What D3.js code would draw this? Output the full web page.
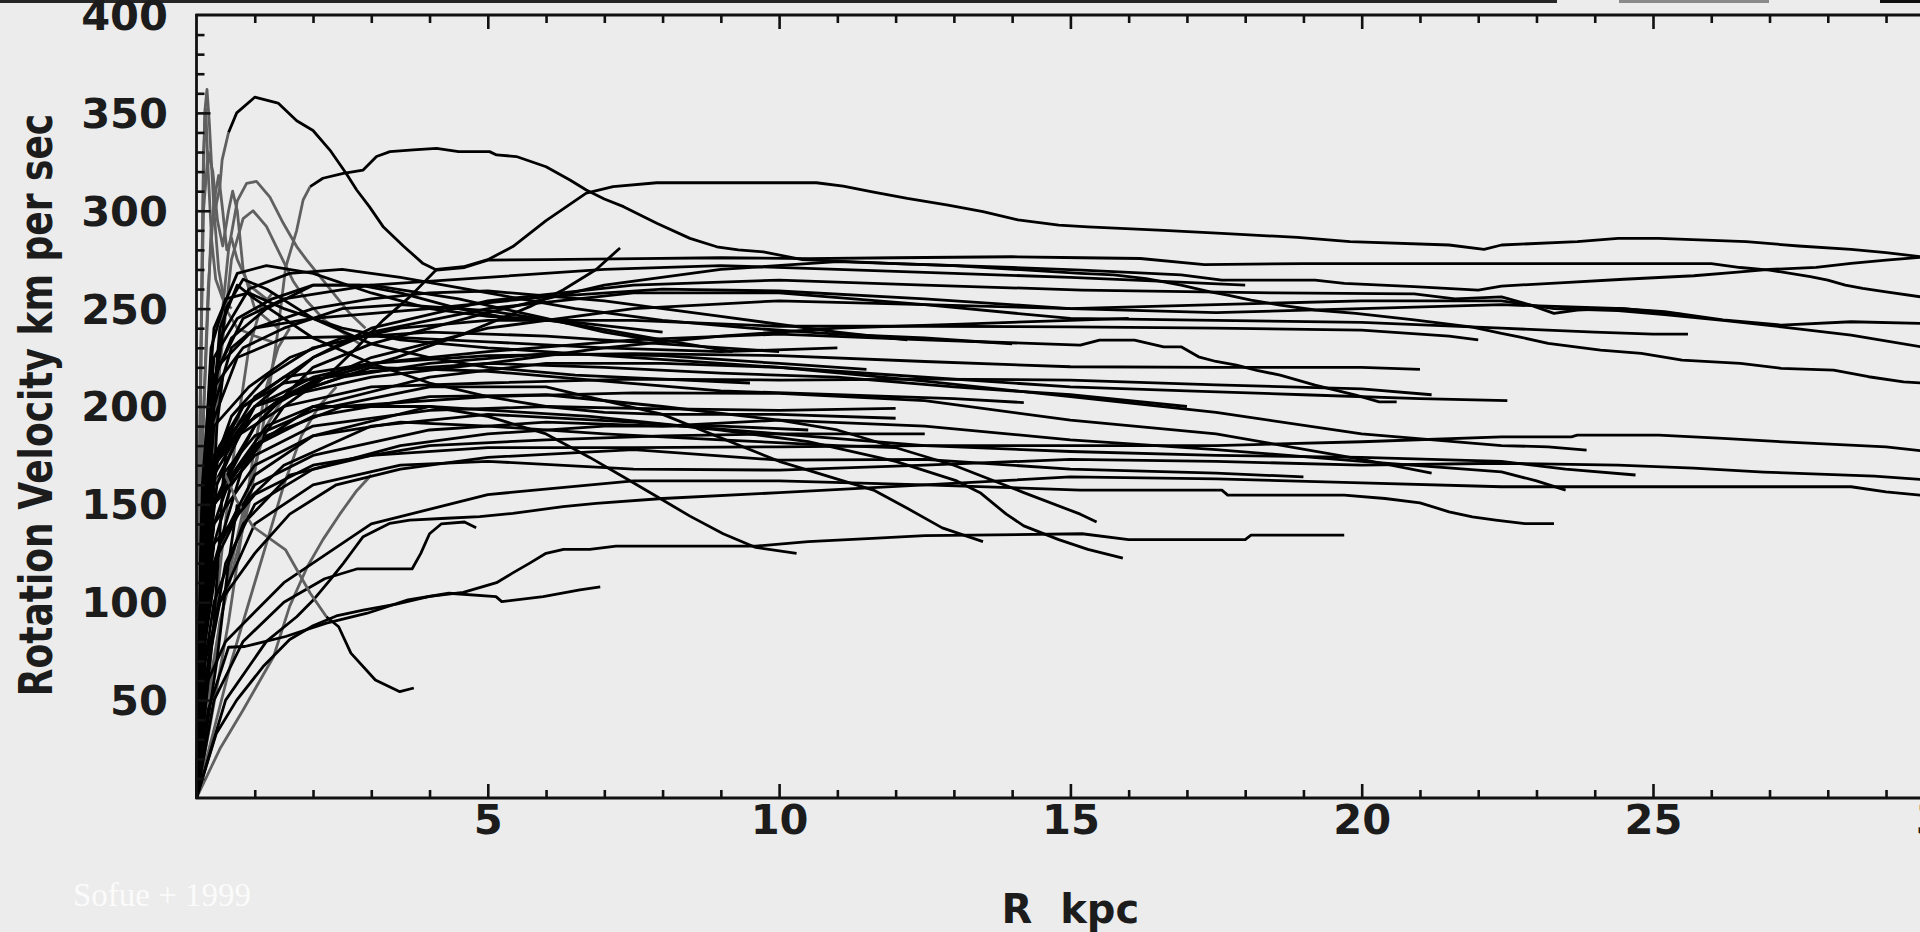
<!DOCTYPE html>
<html><head><meta charset="utf-8">
<script src="https://cdn.jsdelivr.net/npm/d3@7"></script>
<style>
html,body{margin:0;padding:0;background:#ececec;overflow:hidden;}
svg{display:block;}
.lbl{font-family:"DejaVu Sans",sans-serif;font-size:40px;font-weight:bold;fill:#1c1c1c;}
</style></head><body>
<svg id="chart" width="1920" height="932"></svg>
<script>
// ---------- axis values ----------
const xTickLabels = [5, 10, 15, 20, 25, 30];
const yTickLabels = [50, 100, 150, 200, 250, 300, 350, 400];
const xTitle = "R  kpc";
const yTitle = "Rotation Velocity km per sec";
const credit = "Sofue + 1999";

// ---------- rotation curves [R kpc, V km/s] ----------
const curveA2 = [[0,0],[0.15,80],[0.3,120],[0.8,170],[1.5,200],[2.3,217],[2.75,230],[3.2,244],[3.66,256],[4.12,270],[4.58,271.4],[5.0,275],[5.43,281.7],[6.0,295],[6.69,309],[7.15,312.3],[7.9,314.3],[10.64,314.3],[11.1,312.6],[11.6,309.7],[12.2,306.3],[12.9,302.9],[13.5,299.5],[14.1,295.3],[14.8,292.7],[15.3,291.8],[16.6,290],[17.6,288.4],[18.9,286.4],[19.8,284.2],[21.5,282.5],[22.1,280.3],[22.4,282.5],[23.7,284.2],[24.4,285.9],[25.1,285.9],[26.6,284.2],[27.5,282],[28.4,280.3],[29.0,278.6],[29.6,276.5],[30.7,275]];
const curveA1 = [[0,0],[0.1,180],[0.25,290],[0.4,312],[0.44,326],[0.55,340],[0.69,350],[1.0,358],[1.4,355],[1.72,346],[2.0,341],[2.29,331],[2.57,319],[2.75,310.6],[2.97,302],[3.2,292],[3.55,282],[3.89,273],[4.12,269.7],[4.6,271],[5.0,274.8],[6.0,275],[7.6,275.5],[9.0,276],[10.5,275.5],[12,276],[14,276.5],[15.2,276],[16.2,275.6],[17.3,272.5],[19,273],[22.4,273],[26.0,273],[26.5,271],[27.0,269.7],[27.7,266.3],[28.0,264.6],[28.3,262],[28.6,260.3],[29.0,258.6],[29.6,256],[30.7,253]];
const curveB = [[0,0],[0.4,90],[0.9,150],[1.2,200],[1.39,237],[1.53,271],[1.72,290],[1.83,305.5],[1.95,312.3],[2.17,316.6],[2.52,319.1],[2.86,320.8],[3.09,327.7],[3.32,330.2],[3.72,331.1],[4.12,331.9],[4.5,330.2],[5.03,330.2],[5.15,328.5],[5.49,327.7],[6.0,322.5],[6.41,315.7],[6.69,310.6],[7.0,306],[7.33,302.1],[7.9,293.6],[8.47,285.9],[8.93,281.6],[9.3,280],[9.73,279],[10.4,275],[12,273],[14,271],[15.2,269.7],[16.9,267.2],[17.6,264.6],[19.2,264.6],[19.7,262.9],[20.9,261.2],[22.0,259.5],[22.4,261.5],[23.4,263.2],[24.5,265],[25.7,266.8],[26.4,268.5],[27,270],[27.8,271.1],[28.4,273.1],[29,274.8],[29.6,276.2],[30.7,277]];
const curveL4 = [[0,0],[0.1,100],[0.3,160],[1,200],[2,225],[3,240],[5,254],[7.5,262],[10,264.6],[12.5,262],[15.2,259.5],[18.5,258],[20.9,257.5],[21.6,255],[22.4,256],[22.9,251.8],[23.3,247.6],[23.7,249.3],[24.4,250.1],[25.2,248.4],[26.2,244.2],[27.2,241.6],[28.4,243.3],[29.6,242.5],[30.7,242]];
const curveL5 = [[0,0],[0.1,90],[0.3,150],[1,190],[2,220],[3,232],[5,248],[7,262],[9,270],[11,274],[13,272],[15.17,268],[15.74,267.2],[16.3,265.3],[16.9,262],[17.4,258.6],[17.7,256.9],[18.1,254.4],[18.6,251.8],[19.2,249.3],[19.9,247.6],[20.9,244.2],[21.9,240.5],[22.4,237.3],[22.7,235.6],[23.2,232.2],[24.1,228.8],[24.8,227.1],[25.5,223.7],[26.5,222],[27.2,219.5],[28.1,218.6],[28.7,215.2],[29.3,212.6],[30.7,210]];
const curveL6 = [[0,0],[0.1,110],[0.3,170],[1,195],[2,212],[3,225],[5,240],[7.5,250],[10,254],[12.5,252],[15,250],[17.5,252],[20,254],[22.4,254],[23.3,250],[24.4,249],[25.2,247],[26.2,244],[27.2,240.7],[28.4,236.5],[29.6,230.5],[30.7,226]];
const curveR = [[0,0],[0.1,60],[0.3,100],[0.8,140],[1.6,165],[3,175],[5,179],[7.5,179],[10,179.4],[12.5,180],[15,180],[17.5,180],[20,182],[22.4,184.5],[23.6,184.5],[23.7,185.4],[25.1,185.4],[26.2,183.7],[27.5,181.5],[29,179.4],[29.6,177.4],[30.7,176]];
const curveS = [[0,0],[0.15,60],[0.4,100],[1,140],[2,160],[3.5,170],[5,172],[7.5,168],[10,167.5],[12.5,170],[15,173],[17.5,172],[20,170],[22.4,171],[24.4,170],[25.7,168.5],[26.9,166.5],[28.8,164.4],[29.6,162.7],[30.7,161]];
const curveT = [[0,0],[0.5,50],[1.2,80],[1.72,92.6],[2.0,101],[2.29,111.3],[2.52,119.9],[2.69,126.7],[2.86,133.5],[3.09,136.9],[3.32,140.3],[3.66,142],[4.29,142.9],[4.86,143.7],[5.43,145.4],[6.29,148.8],[6.86,150.5],[8,153],[10,156],[12.5,160],[15,164],[17.5,163],[20,161],[22.4,159],[28.4,159],[29,156.4],[29.6,154.7],[30.7,153]];
const curveE14 = [[0,0],[0.08,90],[0.3,170],[1,205],[2,225],[3,238],[5,250],[7.5,258],[10,258],[12.5,252],[15,245],[17.5,244],[20,243],[22.4,240],[24,238],[25,237],[25.6,237]];
const curveE15 = [[0,0],[0.1,100],[0.3,150],[1,180],[2,200],[4,215],[6,222],[8,222],[10,220],[12.5,213],[15,205],[17.5,197],[20,186],[22.4,180],[23.2,179.4],[23.86,177.7]];
const curveE13 = [[0,0],[0.1,80],[0.3,120],[0.8,150],[1.5,170],[3,190],[5,196],[7.5,192],[10,186],[12.5,180],[15,177],[17.5,175],[20,174],[22.4,172],[23.5,168],[24.7,165]];
const curveE16 = [[0,0],[0.15,90],[0.4,130],[1,160],[2,175],[4,188],[6,192],[8,190],[10,193],[12.5,190],[15,183],[17.5,178],[20,172],[22.4,166.6],[23.0,162],[23.5,157.3]];
const curveE12 = [[0,0],[0.2,60],[0.5,80],[1.5,110],[3,140],[5,155],[7.5,162],[10,162],[12.5,160],[15.17,157.3],[17.6,157.3],[17.7,154.7],[19.7,154.7],[20.4,153],[21,150.8],[21.5,146.2],[21.9,143.6],[22.3,142],[22.8,140.2],[23.3,140.2]];
const curveE11 = [[0,0],[0.1,80],[0.3,130],[0.6,160],[1.2,185],[2.5,200],[5,205],[7.5,207],[10,206.7],[12.5,203],[15,193],[17.5,186],[20,173],[21.2,166]];
const curveE10 = [[0,0],[0.1,110],[0.3,170],[1,200],[2,215],[3,222],[5,228],[7.5,234],[10,237],[12.5,234],[15.17,231.4],[15.5,233.9],[16.1,233.9],[16.6,230.5],[16.9,230.5],[17.2,225.4],[17.5,223],[17.85,221.1],[18.2,218.5],[18.6,216],[19.2,210.9],[19.6,208],[19.9,205.8],[20.3,202.4],[20.6,202.4]];
const curveC2 = [[0,0],[0.34,33],[0.69,50],[1.14,67],[1.6,81],[2.0,88],[2.4,93],[2.86,96],[3.43,99],[4.0,103],[4.58,105],[5.15,110],[5.43,115],[5.72,120],[6.0,125],[6.3,127],[6.75,127],[7.2,128.7],[9.6,128.7],[10.5,131],[11.6,132.6],[12.5,134],[15.2,135],[16.0,132],[18,132],[18.1,134.3],[19.7,134.3]];
const curveC4 = [[0,0],[0.1,90],[0.3,140],[0.6,165],[1.2,190],[2,200],[4,200],[6.75,195],[9,188],[10.5,182],[12,172],[13.05,162],[13.45,156],[13.9,145],[14.2,139],[14.8,132],[15.3,127],[15.9,122.5]];
const curveE7 = [[0,0],[0.1,100],[0.3,150],[1,180],[2,195],[4,205],[6,206],[8,200],[10,193],[11,188],[13,170],[14.2,156],[15.17,145],[15.45,141]];
const curveE6 = [[0,0],[0.1,110],[0.3,160],[1,185],[2,198],[4,210],[6,210],[8,196],[10,172],[11.62,157.3],[12.2,148],[12.8,138],[13.5,131]];
const curveC5 = [[0,0],[0.1,90],[0.3,140],[1,170],[2,185],[4,200],[5,195],[6,186],[6.75,174],[7.33,164],[7.9,154],[8.47,144],[9.04,135],[9.6,128],[10.3,125]];
const curveC6 = [[0,0],[0.1,110],[0.3,150],[0.6,170],[1.0,190],[1.5,205],[2.0,213],[2.86,220],[3.43,225],[4.0,231],[4.58,237],[5.15,244],[5.72,251],[6.29,259.5],[6.86,270],[7.27,281]];
const curveC1 = [[0,0],[0.2,45],[0.55,77],[0.83,77.4],[1.53,82.5],[2.23,89.3],[2.93,94.4],[3.63,101.2],[4.33,104.6],[5.14,102.9],[5.24,100.3],[5.95,102.9],[6.58,106.3],[6.93,107.8]];
const curveC3 = [[0,0],[0.3,50],[0.8,80],[1.5,100],[2.2,112],[2.75,117],[3.7,117],[3.85,125],[4.0,135],[4.2,140],[4.6,141],[4.8,138]];
const curveDip = [[0,0],[0.1,100],[0.25,160],[0.48,166],[0.69,152],[0.97,138.6],[1.53,126.7],[1.95,104.7],[2.23,92.6],[2.44,87.5],[2.65,74],[3.07,60.3],[3.49,54.3],[3.73,56.2]];
const curveG1 = [[0,0],[0.08,100],[0.3,170],[0.6,195],[1.2,215],[2,230],[3.5,240],[5,244],[7.5,244],[10,241],[12.5,241],[15,240.7],[17.5,240],[20,239],[21.5,236],[22,234]];
const curveG2 = [[0,0],[0.1,120],[0.3,175],[0.8,200],[1.5,215],[3,222],[5,226],[7.5,227],[10,226],[12.5,223],[15,220.3],[17.5,220],[20,220],[21,219]];
const curveG3 = [[0,0],[0.1,110],[0.3,170],[0.7,185],[1.5,200],[3,210],[5,212],[7.5,214],[10,213.5],[12.5,214],[15,213.5],[17.5,211],[20,209],[21.2,206]];
const curveG4 = [[0,0],[0.1,100],[0.3,150],[1,175],[2,190],[4,198],[6,200],[7.5,199],[10,198],[12,199]];
const curveG5 = [[0,0],[0.1,90],[0.3,130],[1,155],[2,170],[4,180],[6,183],[8,185],[10,186],[12.5,186]];
const curveG7 = [[0,0],[0.1,120],[0.3,200],[0.6,230],[1,240],[2,250],[3,255],[4,258],[5,259],[7,254],[9,246],[11,238],[12.2,234]];
const curveG8 = [[0,0],[0.1,130],[0.3,210],[0.8,230],[1.5,240],[2.5,250],[3.5,252],[5,249],[6.5,242],[8,234],[9.2,228]];
const curveG9 = [[0,0],[0.1,100],[0.3,165],[0.8,190],[1.5,205],[2.5,215],[4,222],[6,227],[8,226],[10,222],[11.5,219]];
const curveG10 = [[0,0],[0.1,120],[0.4,180],[1,200],[2,210],[3,220],[5,218],[7,213],[9,208],[11,206],[13,204],[14.2,202]];
const curveG11 = [[0,0],[0.08,140],[0.25,210],[0.6,235],[1.2,250],[2,262],[3,262],[4.5,255],[6,245],[7,238],[8,233]];
const curveG12 = [[0,0],[0.1,150],[0.3,225],[0.7,245],[1.3,255],[2,262],[2.8,262],[3.5,258],[4.5,250],[5.2,246],[6,244]];
const curveG13 = [[0,0],[0.1,120],[0.3,190],[0.9,210],[1.6,225],[2.5,235],[4,238],[6,236],[8,232],[10,228]];
const curveG14 = [[0,0],[0.15,70],[0.4,100],[1,125],[1.6,145],[2.4,160],[3.5,168],[5,174],[7.5,178],[10,172.6],[12.5,173],[15,168],[17.5,166],[19,164]];
const curveD1 = [[0,0],[0.15,150],[0.4,240],[0.7,262],[1.0,255],[2,235],[3,222],[4,212],[5,205],[6,200],[7,197],[8,196],[10,196],[12,194]];
const curveD2 = [[0,0],[0.2,180],[0.5,250],[0.8,265],[1.2,260],[2,245],[3,232],[4,225],[5,220],[6.5,216],[8,214],[9.5,212]];
const curveN1 = [[0,0],[0.1,130],[0.3,215],[0.8,245],[1.5,255],[3,262],[5,266],[7,270],[9,272],[11,270],[13,268],[15,266],[16.5,264],[18,262]];
const curveN2 = [[0,0],[0.12,140],[0.35,220],[1,240],[2,245],[4,250],[6,256],[8,260],[10,259],[12.5,255],[15,250],[17.5,248],[20,250],[22.4,252],[24.5,250],[25.5,247]];
const curveN4 = [[0,0],[0.08,110],[0.25,190],[0.7,225],[1.5,235],[3,236],[5,233],[7,230],[9,228],[11,230]];
const curveN5 = [[0,0],[0.1,100],[0.3,170],[0.8,200],[1.5,212],[3,218],[5,222],[7,220],[9,217],[11,215],[13,210],[15,206],[17,200]];
const curveN6 = [[0,0],[0.15,150],[0.4,235],[0.9,260],[1.6,268],[2.5,270],[3.5,266],[5,258],[6.5,250],[8,244],[9.5,240],[11,237],[12.5,235],[14,232]];
const curveN7 = [[0,0],[0.1,160],[0.3,240],[0.7,268],[1.2,272],[2,268],[3,258],[4,250],[5,246],[6.5,243],[8,238]];
const curveN9 = [[0,0],[0.15,80],[0.4,130],[1,165],[2,185],[3.5,192],[5,190],[7,186],[9,183],[11,180],[12,179]];
const curveN10 = [[0,0],[0.12,100],[0.35,160],[0.8,190],[1.5,205],[3,215],[5,222],[7,230],[9,236],[11,240],[13,242],[15,244],[16,245]];
const curveN11 = [[0,0],[0.2,70],[0.5,120],[1,150],[2,168],[3.5,180],[5,186],[7,190],[9,190],[10.5,188]];
const curveN12 = [[0,0],[0.1,150],[0.25,230],[0.5,255],[0.9,258],[1.5,250],[2.5,240],[3.5,234],[5,230],[7,226],[9,222],[11,218],[13,214],[15,210],[17,208],[19,206],[21,204],[22.5,203]];
const curveIn1 = [[0,0],[0.06,40],[0.12,75],[0.2,110],[0.28,150],[0.35,190],[0.45,215]];
const curveIn2 = [[0,0],[0.1,35],[0.2,60],[0.3,90],[0.38,125],[0.45,160],[0.55,190]];
const curveIn3 = [[0,0],[0.12,25],[0.25,50],[0.35,70],[0.45,95],[0.55,120],[0.7,150]];
const grayPeak1 = [[0,0],[0.15,120],[0.35,220],[0.55,280],[0.7,305],[0.86,314],[1.03,315],[1.26,307],[1.49,293.6],[1.72,281.7],[1.89,274.9],[2.17,264.6],[2.4,256],[2.63,247.6],[2.9,240]];
const grayPeak2 = [[0,0],[0.15,110],[0.4,220],[0.6,275],[0.8,296],[0.97,300],[1.2,292],[1.43,278],[1.66,264],[1.89,254],[2.2,244],[2.5,238],[2.8,232]];
const graySpike1 = [[0,0],[0.05,150],[0.1,280],[0.14,350],[0.18,362],[0.22,345],[0.3,300],[0.38,270],[0.5,250],[0.7,240],[1.0,236],[1.3,233]];
const graySpike2 = [[0,0],[0.06,200],[0.12,300],[0.2,330],[0.28,320],[0.36,295],[0.45,282],[0.55,300],[0.62,310],[0.7,300],[0.8,270],[1.0,250],[1.4,240]];
const graySpike3 = [[0,0],[0.04,120],[0.08,240],[0.12,330],[0.16,352],[0.2,320],[0.26,285],[0.33,265],[0.45,255],[0.6,250]];
const graySpike4 = [[0,0],[0.1,180],[0.2,260],[0.3,305],[0.38,318],[0.45,300],[0.52,280],[0.6,286],[0.7,275],[0.9,262],[1.2,255]];
const grayRise1 = [[0,0],[0.4,25],[0.8,45],[1.32,72],[1.6,98],[1.9,118],[2.17,132],[2.46,145],[2.75,157],[3.0,165]];
const grayRise2 = [[0,0],[0.3,35],[0.6,70],[0.9,100],[1.2,130],[1.5,160],[1.8,185],[2.1,200],[2.4,210]];
const grayRise3 = [[0,0],[0.25,40],[0.55,90],[0.8,140],[1.0,180],[1.2,210],[1.4,230],[1.6,240]];
const grayRise4 = [[0,0],[0.2,60],[0.45,130],[0.7,190],[0.9,230],[1.1,250],[1.3,258]];
const grayRise5 = [[0,0],[0.15,45],[0.35,80],[0.6,120],[0.9,160],[1.2,190],[1.5,205],[1.9,215]];

// black curves, and the radius up to which a curve is drawn grey
const blackCurves = [curveA2, curveA1, curveB, curveL4, curveL5, curveL6, curveR, curveS, curveT,
  curveE14, curveE15, curveE13, curveE16, curveE12, curveE11, curveE10, curveC2, curveC4, curveE7,
  curveE6, curveC5, curveC6, curveC1, curveC3, curveDip, curveG1, curveG2, curveG3, curveG4, curveG5,
  curveG7, curveG8, curveG9, curveG10, curveG11, curveG12, curveG13, curveG14, curveD1, curveD2,
  curveN1, curveN2, curveN4, curveN5, curveN6, curveN7, curveN9, curveN10, curveN11, curveN12,
  curveIn1, curveIn2, curveIn3];
const greyInnerTo = new Map([[curveB, 1.95], [curveA1, 0.6], [curveDip, 2.3]]);
const greyCurves = [grayPeak1, grayPeak2, graySpike1, graySpike2, graySpike3, graySpike4,
  grayRise1, grayRise2, grayRise3, grayRise4, grayRise5];

// ---------- drawing ----------
const W = 1920, H = 932;
const LW = 2.8;
const svg = d3.select("#chart");
svg.append("rect").attr("width", W).attr("height", H).attr("fill", "#ececec");
// thin screenshot strip on top
svg.append("rect").attr("x", 0).attr("y", 0).attr("width", 1557).attr("height", 3).attr("fill", "#262626");
svg.append("rect").attr("x", 1619).attr("y", 0).attr("width", 150).attr("height", 3).attr("fill", "#8a8a8a");
svg.append("rect").attr("x", 1880).attr("y", 0).attr("width", 40).attr("height", 3).attr("fill", "#111");

const x = d3.scaleLinear().domain([0, 30]).range([196.5, 1944.3]);
const y = d3.scaleLinear().domain([0, 400]).range([798, 15]);

const line = d3.line().x(d => x(d[0])).y(d => y(d[1])).curve(d3.curveLinear);
const plot = svg.append("g");

function drawPath(pts, colour) {
  plot.append("path").attr("d", line(pts)).attr("fill", "none")
    .attr("stroke", colour).attr("stroke-width", LW).attr("stroke-linejoin", "round");
}
greyCurves.forEach(c => drawPath(c, "#606060"));
blackCurves.forEach(c => {
  const g = greyInnerTo.get(c) || 0;
  if (g > 0) {
    const inner = c.filter(d => d[0] <= g);
    const outer = c.filter(d => d[0] >= inner[inner.length - 1][0]);
    drawPath(inner, "#606060");
    drawPath(outer, "#000");
  } else {
    drawPath(c, "#000");
  }
});

// axes frame lines
const axisColor = "#111";
svg.append("line").attr("x1", x(0)).attr("x2", x(0)).attr("y1", y(0) + 1).attr("y2", y(400) - 1)
  .attr("stroke", axisColor).attr("stroke-width", 2.8);
svg.append("line").attr("x1", x(0) - 1).attr("x2", W).attr("y1", y(0)).attr("y2", y(0))
  .attr("stroke", axisColor).attr("stroke-width", 2.8);
svg.append("line").attr("x1", x(0) - 1).attr("x2", W).attr("y1", y(400)).attr("y2", y(400))
  .attr("stroke", axisColor).attr("stroke-width", 2.8);

function ticks(axis, tr) {
  const g = svg.append("g").attr("transform", tr).call(axis);
  g.select(".domain").remove();
  g.selectAll("line").attr("stroke", axisColor).attr("stroke-width", 2.6);
  return g;
}
const xMinor = d3.range(1, 31).filter(v => v % 5 !== 0);
const yMinor = d3.range(10, 400, 10).filter(v => v % 50 !== 0);
ticks(d3.axisTop(x).tickValues(xMinor).tickSize(8).tickFormat(""), `translate(0,${y(0)})`);
ticks(d3.axisTop(x).tickValues(xTickLabels).tickSize(14).tickFormat(""), `translate(0,${y(0)})`);
ticks(d3.axisBottom(x).tickValues(xMinor).tickSize(8).tickFormat(""), `translate(0,${y(400)})`);
ticks(d3.axisBottom(x).tickValues(xTickLabels).tickSize(14).tickFormat(""), `translate(0,${y(400)})`);
ticks(d3.axisRight(y).tickValues(yMinor).tickSize(8).tickFormat(""), `translate(${x(0)},0)`);
ticks(d3.axisRight(y).tickValues(yTickLabels.filter(v => v < 400)).tickSize(14).tickFormat(""), `translate(${x(0)},0)`);

// tick labels
const gx = svg.append("g").attr("transform", `translate(0,${y(0)})`)
  .call(d3.axisBottom(x).tickValues(xTickLabels).tickSize(0).tickFormat(d3.format("d")));
gx.select(".domain").remove();
gx.selectAll("text").attr("class", "lbl").attr("y", 36).attr("dy", 0)
  .attr("text-anchor", "middle").attr("transform", "scale(1.04,1)");

const gy = svg.append("g").attr("transform", `translate(${x(0)},0)`)
  .call(d3.axisLeft(y).tickValues(yTickLabels).tickSize(0).tickFormat(d3.format("d")));
gy.select(".domain").remove();
gy.selectAll("text").attr("class", "lbl").attr("x", 0).attr("dy", "0.36em")
  .attr("text-anchor", "end").attr("transform", `translate(${168 - x(0)},0) scale(1.04,1)`);

// titles
svg.append("text").attr("class", "lbl").attr("text-anchor", "middle")
  .attr("transform", `translate(${x(15)},923)`)
  .style("white-space", "pre").text(xTitle);
svg.append("text").attr("class", "lbl").attr("text-anchor", "middle")
  .style("font-size", "36px")
  .attr("transform", "translate(52,405) rotate(-90) scale(1,1.3)")
  .text(yTitle);
svg.append("text").attr("x", 73).attr("y", 906)
  .attr("font-family", "'Liberation Serif', serif").attr("font-size", 33)
  .attr("fill", "#fbfbfb").text(credit);
</script>
</body></html>
